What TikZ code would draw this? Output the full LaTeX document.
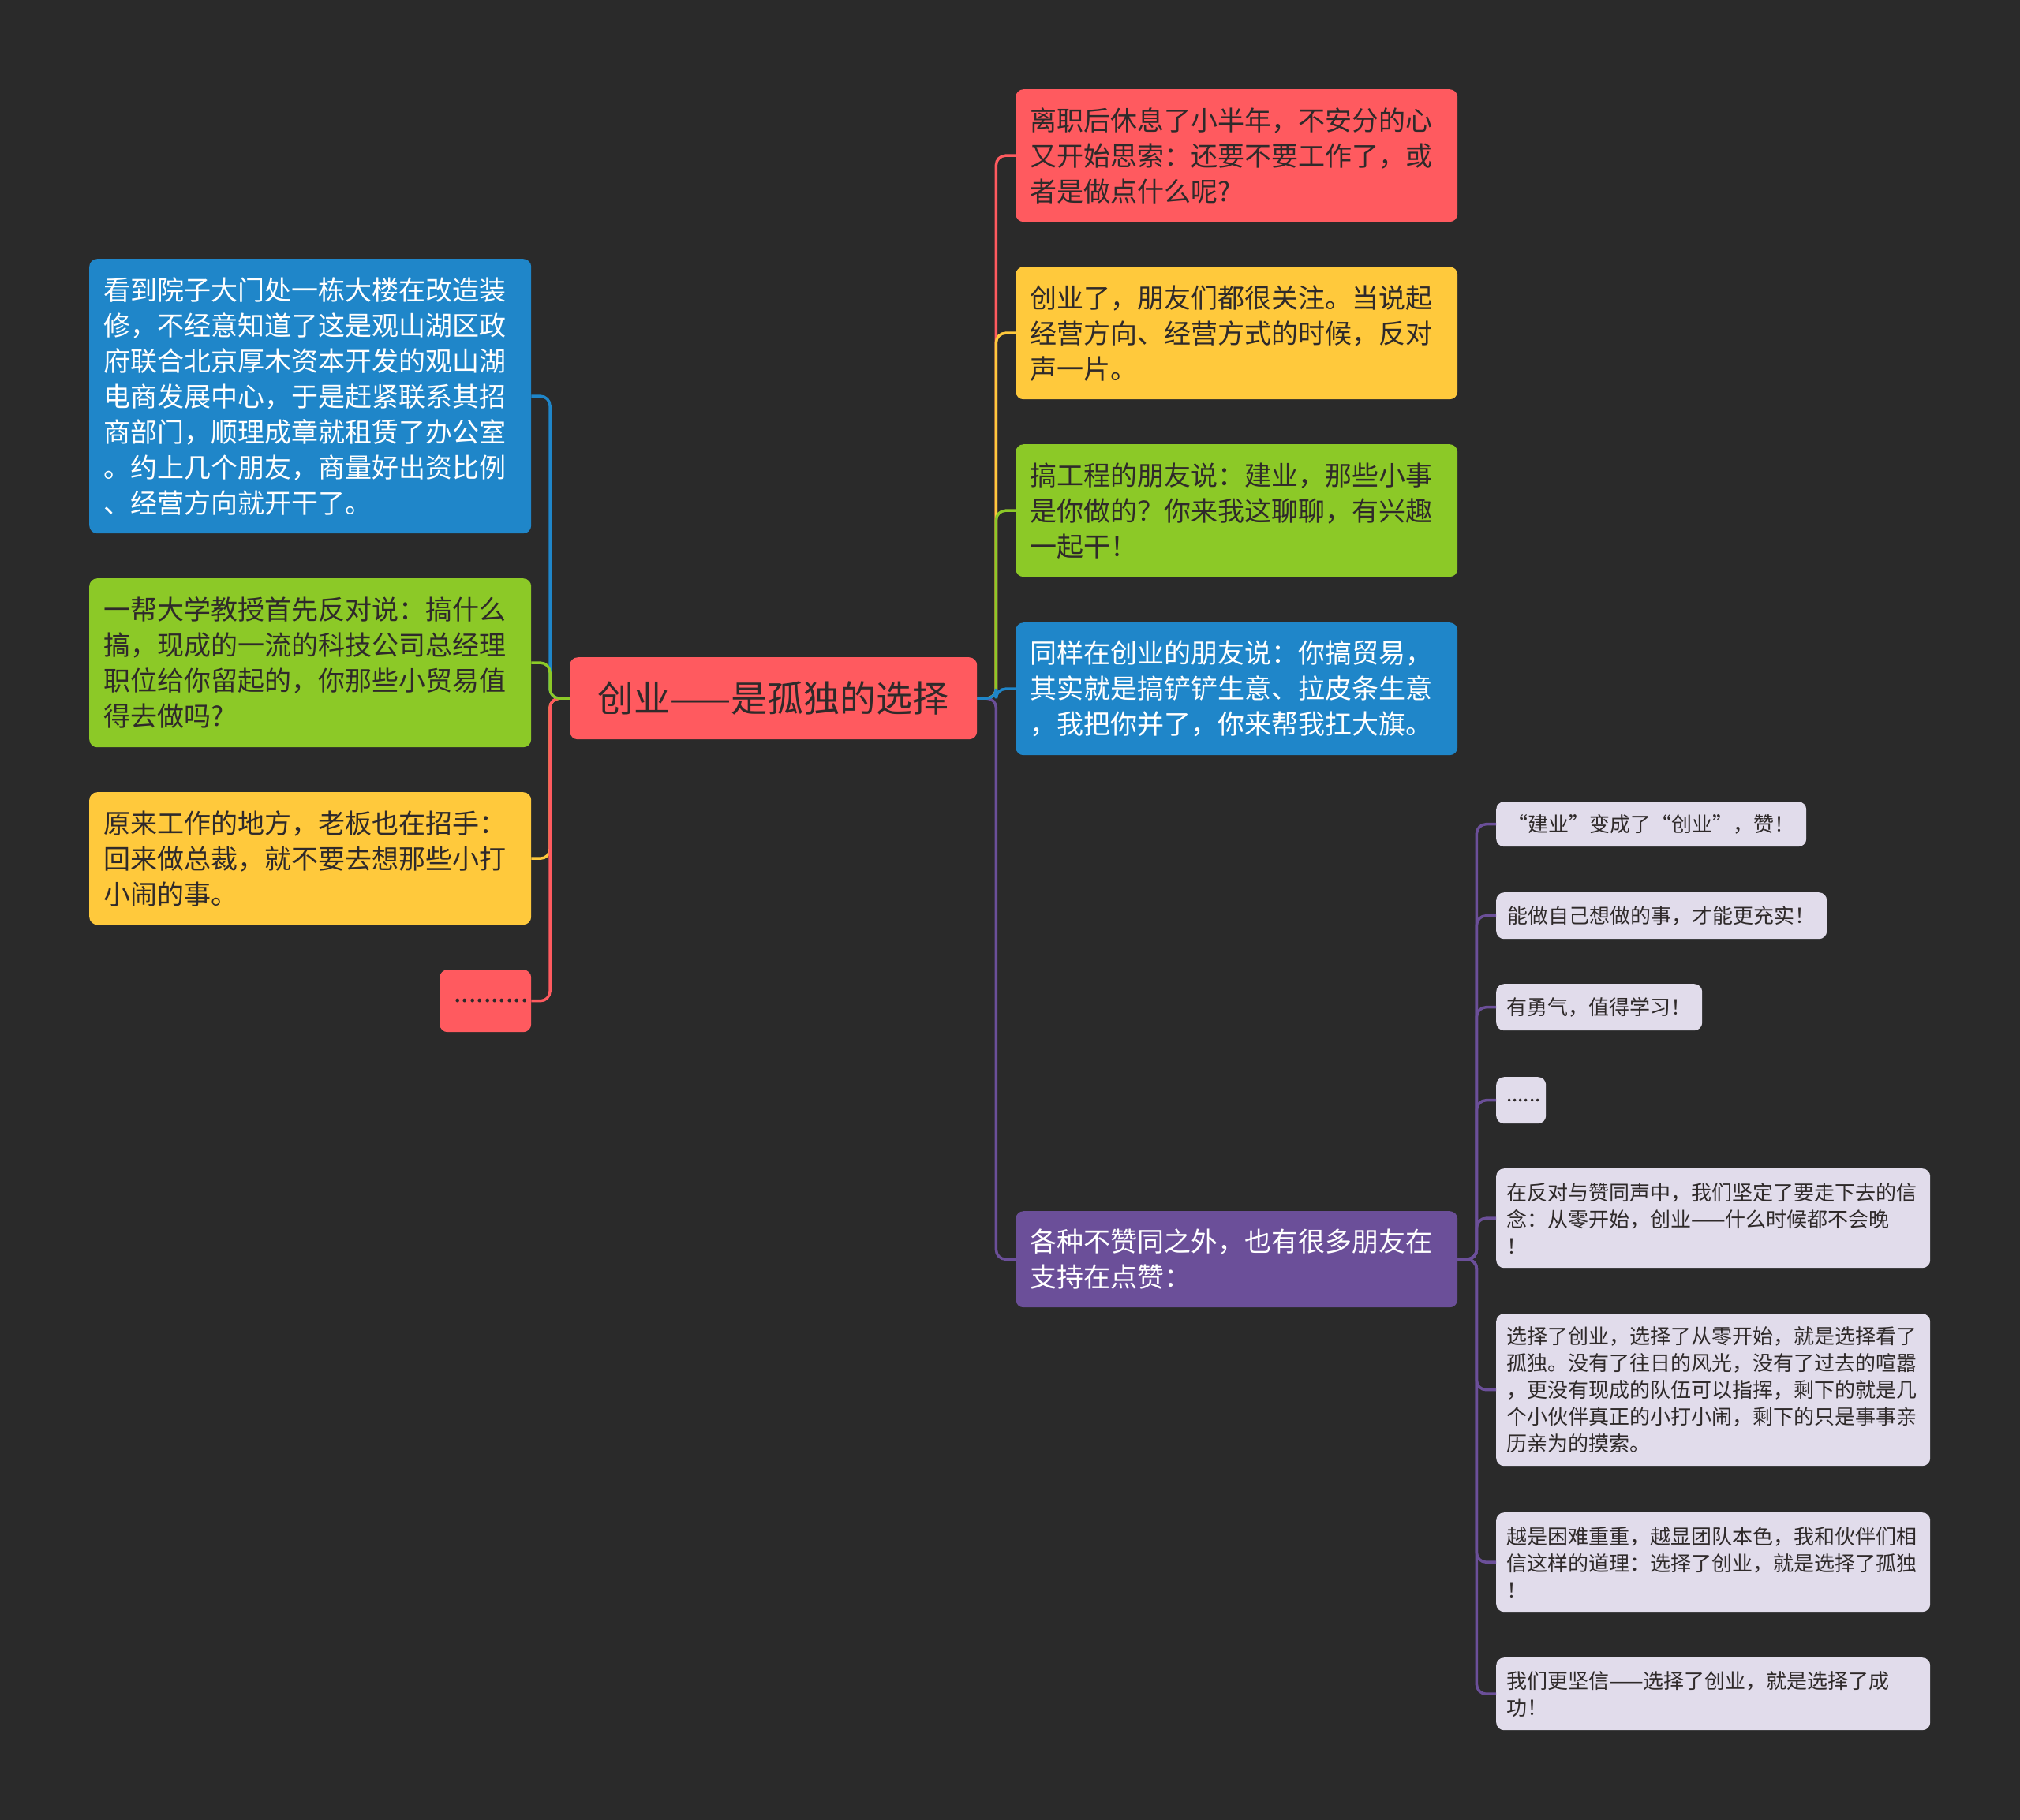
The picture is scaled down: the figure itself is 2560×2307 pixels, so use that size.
\documentclass[tikz,border=0pt]{standalone}
\usepackage{fontspec}
\newfontfamily\cjk{Noto Sans CJK SC}
\definecolor{bg}{HTML}{2A2A2A}
\definecolor{cred}{HTML}{FF5A5F}
\definecolor{cyel}{HTML}{FFC93C}
\definecolor{cgreen}{HTML}{8CC927}
\definecolor{cblue}{HTML}{1F86C9}
\definecolor{cpurp}{HTML}{6B4F99}
\definecolor{clav}{HTML}{E1DCEB}
\definecolor{dtext}{HTML}{2F2A2A}
\tikzset{
  bigbox/.style={rounded corners=10pt, anchor=north west, inner xsep=18pt, inner ysep=0pt,
    align=left, text=dtext, font=\cjk\fontsize{34}{45}\selectfont},
  smallbox/.style={rounded corners=10pt, anchor=north west, inner xsep=13pt, inner ysep=0pt,
    align=left, fill=clav, text=dtext, font=\cjk\fontsize{26}{34}\selectfont},
  link/.style={line width=3.5pt, rounded corners=12pt}
}
\begin{document}
\begin{tikzpicture}[x=1pt,y=-1pt]
\useasboundingbox (0,0) rectangle (2560,2307);
\fill[bg] (0,0) rectangle (2560,2307);

% root
\node[bigbox, fill=cred, align=center, text width=480pt, minimum height=104pt,
      font=\cjk\fontsize{46}{56}\selectfont] (root) at (722,833) {创业——是孤独的选择};

% left nodes
\node[bigbox, fill=cblue, text=white, text width=524pt, minimum height=348pt] (L1) at (113,328)
 {看到院子大门处一栋大楼在改造装\\修，不经意知道了这是观山湖区政\\府联合北京厚木资本开发的观山湖\\电商发展中心，于是赶紧联系其招\\商部门，顺理成章就租赁了办公室\\。约上几个朋友，商量好出资比例\\、经营方向就开干了。};
\node[bigbox, fill=cgreen, text width=524pt, minimum height=214pt] (L2) at (113,733)
 {一帮大学教授首先反对说：搞什么\\搞，现成的一流的科技公司总经理\\职位给你留起的，你那些小贸易值\\得去做吗?};
\node[bigbox, fill=cyel, text width=524pt, minimum height=168pt] (L3) at (113,1004)
 {原来工作的地方，老板也在招手：\\回来做总裁，就不要去想那些小打\\小闹的事。};
\node[bigbox, fill=cred, align=center, text width=80pt, minimum height=79pt] (L4) at (557,1229)
 {..........};

% right nodes
\node[bigbox, fill=cred, text width=524pt, minimum height=168pt] (R1) at (1287,113)
 {离职后休息了小半年，不安分的心\\又开始思索：还要不要工作了，或\\者是做点什么呢?};
\node[bigbox, fill=cyel, text width=524pt, minimum height=168pt] (R2) at (1287,338)
 {创业了，朋友们都很关注。当说起\\经营方向、经营方式的时候，反对\\声一片。};
\node[bigbox, fill=cgreen, text width=524pt, minimum height=168pt] (R3) at (1287,563)
 {搞工程的朋友说：建业，那些小事\\是你做的？你来我这聊聊，有兴趣\\一起干！};
\node[bigbox, fill=cblue, text=white, text width=524pt, minimum height=168pt] (R4) at (1287,789)
 {同样在创业的朋友说：你搞贸易，\\其实就是搞铲铲生意、拉皮条生意\\，我把你并了，你来帮我扛大旗。};
\node[bigbox, fill=cpurp, text=white, text width=524pt, minimum height=122pt] (R5) at (1287,1535)
 {各种不赞同之外，也有很多朋友在\\支持在点赞：};

% children of R5
\node[smallbox, align=center, text width=367pt, minimum height=57pt] (C1) at (1896,1016)
 {“建业”变成了“创业”，赞！};
\node[smallbox, align=center, text width=393pt, minimum height=59pt] (C2) at (1896,1131)
 {能做自己想做的事，才能更充实！};
\node[smallbox, align=center, text width=235pt, minimum height=59pt] (C3) at (1896,1247)
 {有勇气，值得学习！};
\node[smallbox, align=center, text width=37pt, minimum height=59pt] (C4) at (1896,1365)
 {......};
\node[smallbox, text width=524pt, minimum height=126pt] (C5) at (1896,1481)
 {在反对与赞同声中，我们坚定了要走下去的信\\念：从零开始，创业——什么时候都不会晚\\！};
\node[smallbox, text width=524pt, minimum height=193pt] (C6) at (1896,1665)
 {选择了创业，选择了从零开始，就是选择看了\\孤独。没有了往日的风光，没有了过去的喧嚣\\，更没有现成的队伍可以指挥，剩下的就是几\\个小伙伴真正的小打小闹，剩下的只是事事亲\\历亲为的摸索。};
\node[smallbox, text width=524pt, minimum height=126pt] (C7) at (1896,1917)
 {越是困难重重，越显团队本色，我和伙伴们相\\信这样的道理：选择了创业，就是选择了孤独\\！};
\node[smallbox, text width=524pt, minimum height=92pt] (C8) at (1896,2101)
 {我们更坚信——选择了创业，就是选择了成\\功！};

% connectors left
\draw[link, cblue] (root.west) -- ++(-25,0) |- (L1.east);
\draw[link, cyel] (root.west) -- ++(-25,0) |- (L3.east);
\draw[link, cred] (root.west) -- ++(-25,0) |- (L4.east);
\draw[link, cgreen] (root.west) -- ++(-25,0) |- (L2.east);

% connectors right
\draw[link, cred] (root.east) -- ++(24,0) |- (R1.west);
\draw[link, cyel] (root.east) -- ++(24,0) |- (R2.west);
\draw[link, cgreen] (root.east) -- ++(24,0) |- (R3.west);
\draw[link, cpurp] (root.east) -- ++(24,0) |- (R5.west);
\draw[link, cblue] (root.east) -- ++(24,0) |- (R4.west);

% connectors purple children
\foreach \c in {C1,C2,C3,C4,C5,C6,C7,C8}
  \draw[link, cpurp] (R5.east) -- ++(24,0) |- (\c.west);
\end{tikzpicture}
\end{document}
